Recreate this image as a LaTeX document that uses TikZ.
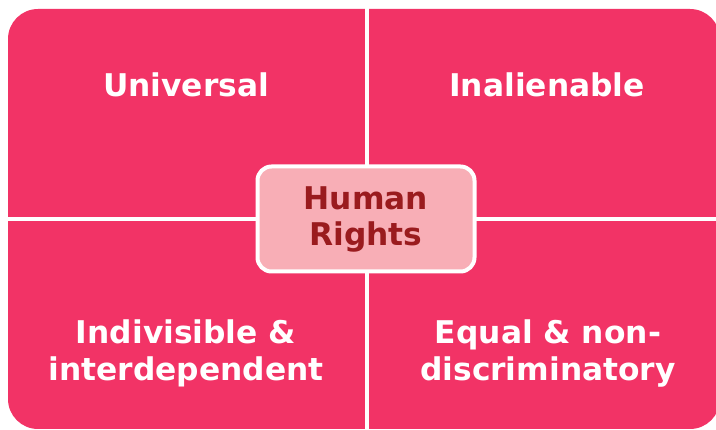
\documentclass[tikz,border=0pt]{standalone}
\usepackage{fontspec}
\setmainfont{DejaVu Sans}
\usepackage{tikz}
\usetikzlibrary{positioning}
\definecolor{quadpink}{HTML}{F23366}
\definecolor{corepink}{HTML}{F8AEB6}
\definecolor{corered}{HTML}{9A1B1E}

\begin{document}
\begin{tikzpicture}[
        x=1pt, y=-1pt,
        quad/.style={text=white, font=\fontsize{31.3}{37}\selectfont\bfseries, align=center},
        core/.style={draw=white, line width=4pt, fill=corepink, rounded corners=14pt, text=corered, font=\fontsize{31.3}{36}\selectfont\bfseries, align=center, minimum width=217pt, minimum height=105pt}
    ]
        \useasboundingbox (0,0) rectangle (716,430);
        \fill[quadpink, rounded corners=30pt] (8,9) rectangle (720,429);
        \draw[white, line width=4pt] (367,0) -- (367,430);
        \draw[white, line width=4pt] (0,219) -- (716,219);

        \node[quad] (univ) at (186,85) {Universal};
        \node[quad] (inal) at (547,85) {Inalienable};
        \node[quad] (indiv) at (186,353) {Indivisible \&\\interdependent};
        \node[quad] (equal) at (548,353) {Equal \& non-\\discriminatory};
        \node[core] (rights) at (366,219) {Human\\Rights};
    \end{tikzpicture}
\end{document}
